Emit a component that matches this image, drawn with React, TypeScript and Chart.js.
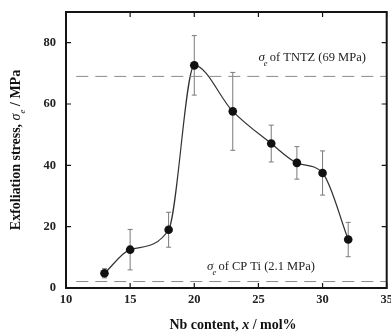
import React, { useEffect, useRef } from "react";
import { Chart, registerables } from "chart.js";

Chart.register(...registerables);

const nbContent = [13, 15, 18, 20, 23, 26, 28, 30, 32];
const stress = [4.8, 12.5, 19.0, 72.6, 57.6, 47.1, 40.8, 37.5, 15.8];
const stressErr = [1.5, 6.6, 5.7, 9.7, 12.7, 6.0, 5.3, 7.2, 5.6];
const xTicks = [10, 15, 20, 25, 30, 35];
const yTicks = [0, 20, 40, 60, 80];
const tntzLevel = 69;
const cpTiLevel = 2.1;
const refLineStart = 10.8;
const tntzLabel = ["σ", "e", " of TNTZ (69 MPa)"];
const cpTiLabel = ["σ", "e", " of CP Ti (2.1 MPa)"];
const tntzLabelPos = { x: 25.0, y: 74 };
const cpTiLabelPos = { x: 21.0, y: 5.8 };

const SERIF = '"Liberation Serif", "DejaVu Serif", serif';

const overlay = {
  id: "overlay",
  beforeDatasetsDraw(chart: any) {
    const ctx = chart.ctx;
    const xs = chart.scales.x;
    const ys = chart.scales.y;
    ctx.save();
    ctx.strokeStyle = "#7a7a7a";
    ctx.lineWidth = 1;
    nbContent.forEach((xv, i) => {
      const px = xs.getPixelForValue(xv);
      const top = ys.getPixelForValue(stress[i] + stressErr[i]);
      const bot = ys.getPixelForValue(stress[i] - stressErr[i]);
      ctx.beginPath();
      ctx.moveTo(px, top);
      ctx.lineTo(px, bot);
      ctx.moveTo(px - 2.5, top);
      ctx.lineTo(px + 2.5, top);
      ctx.moveTo(px - 2.5, bot);
      ctx.lineTo(px + 2.5, bot);
      ctx.stroke();
    });
    ctx.restore();
  },
  afterDraw(chart: any) {
    const ctx = chart.ctx;
    const xs = chart.scales.x;
    const ys = chart.scales.y;
    const a = chart.chartArea;
    ctx.save();
    // frame
    ctx.strokeStyle = "#151515";
    ctx.lineWidth = 2;
    ctx.strokeRect(a.left, a.top, a.right - a.left, a.bottom - a.top);
    // inward ticks
    ctx.lineWidth = 1.2;
    ctx.beginPath();
    xTicks.forEach((v) => {
      const px = xs.getPixelForValue(v);
      ctx.moveTo(px, a.bottom);
      ctx.lineTo(px, a.bottom - 5);
      ctx.moveTo(px, a.top);
      ctx.lineTo(px, a.top + 5);
    });
    yTicks.forEach((v) => {
      const py = ys.getPixelForValue(v);
      ctx.moveTo(a.left, py);
      ctx.lineTo(a.left + 5, py);
      ctx.moveTo(a.right, py);
      ctx.lineTo(a.right - 5, py);
    });
    ctx.stroke();

    // annotations
    const drawSigmaLabel = (parts: string[], xv: number, yv: number) => {
      const px = xs.getPixelForValue(xv);
      const py = ys.getPixelForValue(yv);
      ctx.fillStyle = "#222";
      ctx.textBaseline = "alphabetic";
      ctx.textAlign = "left";
      ctx.font = `italic 13px ${SERIF}`;
      ctx.fillText(parts[0], px, py);
      const w0 = ctx.measureText(parts[0]).width;
      ctx.font = `italic 8.5px ${SERIF}`;
      ctx.fillText(parts[1], px + w0 - 1, py + 5);
      const w1 = ctx.measureText(parts[1]).width;
      ctx.font = `12.5px ${SERIF}`;
      ctx.fillText(parts[2], px + w0 + w1 - 2, py);
    };
    drawSigmaLabel(tntzLabel, tntzLabelPos.x, tntzLabelPos.y);
    drawSigmaLabel(cpTiLabel, cpTiLabelPos.x, cpTiLabelPos.y);

    // x title
    ctx.fillStyle = "#111";
    const xParts = [
      { t: "Nb content, ", f: `bold 14px ${SERIF}` },
      { t: "x", f: `bold italic 14px ${SERIF}` },
      { t: " / mol%", f: `bold 14px ${SERIF}` },
    ];
    let total = 0;
    xParts.forEach((p) => {
      ctx.font = p.f;
      total += ctx.measureText(p.t).width;
    });
    let cx = 233 - total / 2;
    xParts.forEach((p) => {
      ctx.font = p.f;
      ctx.fillText(p.t, cx, 329);
      cx += ctx.measureText(p.t).width;
    });

    // y title
    ctx.translate(20, 150);
    ctx.rotate(-Math.PI / 2);
    const yParts = [
      { t: "Exfoliation stress, ", f: `bold 14px ${SERIF}`, dy: 0 },
      { t: "σ", f: `italic 14px ${SERIF}`, dy: 0 },
      { t: "e", f: `italic 9px ${SERIF}`, dy: 5 },
      { t: " / MPa", f: `bold 14px ${SERIF}`, dy: 0 },
    ];
    total = 0;
    yParts.forEach((p) => {
      ctx.font = p.f;
      total += ctx.measureText(p.t).width;
    });
    cx = -total / 2;
    yParts.forEach((p) => {
      ctx.font = p.f;
      ctx.fillText(p.t, cx, p.dy);
      cx += ctx.measureText(p.t).width;
    });
    ctx.restore();
  },
};

export default function App() {
  const ref = useRef<HTMLCanvasElement>(null);
  useEffect(() => {
    if (!ref.current) return;
    const chart = new Chart(ref.current, {
      type: "line",
      data: {
        datasets: [
          {
            data: [
              { x: refLineStart, y: tntzLevel },
              { x: 35, y: tntzLevel },
            ],
            borderColor: "#8a8a8a",
            borderWidth: 1,
            borderDash: [12, 7],
            pointRadius: 0,
          },
          {
            data: [
              { x: refLineStart, y: cpTiLevel },
              { x: 35, y: cpTiLevel },
            ],
            borderColor: "#8a8a8a",
            borderWidth: 1,
            borderDash: [12, 7],
            pointRadius: 0,
          },
          {
            data: nbContent.map((x, i) => ({ x, y: stress[i] })),
            borderColor: "#333",
            borderWidth: 1.2,
            cubicInterpolationMode: "monotone",
            pointRadius: 4.3,
            pointBackgroundColor: "#111",
            pointBorderColor: "#111",
            pointBorderWidth: 0,
          },
        ],
      },
      options: {
        animation: false,
        responsive: false,
        devicePixelRatio: 1,
        layout: { padding: { top: 12, right: 1, left: 0, bottom: 0 } },
        plugins: { legend: { display: false }, tooltip: { enabled: false } },
        scales: {
          x: {
            type: "linear",
            min: 10,
            max: 35,
            grid: { display: false, drawTicks: false },
            border: { display: false },
            afterBuildTicks: (s: any) => {
              s.ticks = xTicks.map((v) => ({ value: v }));
            },
            afterFit: (s: any) => {
              s.height = 44;
              s.paddingLeft = 0;
              s.paddingRight = 0;
            },
            ticks: {
              padding: 4,
              color: "#222",
              font: { family: SERIF, size: 12.5, weight: "bold" },
              maxRotation: 0,
              autoSkip: false,
            },
          },
          y: {
            type: "linear",
            min: 0,
            max: 90,
            grid: { display: false, drawTicks: false },
            border: { display: false },
            afterBuildTicks: (s: any) => {
              s.ticks = yTicks.map((v) => ({ value: v }));
            },
            afterFit: (s: any) => {
              s.width = 66;
              s.paddingTop = 0;
              s.paddingBottom = 0;
            },
            ticks: {
              padding: 10,
              color: "#222",
              font: { family: SERIF, size: 12.5, weight: "bold" },
            },
          },
        },
      },
      plugins: [overlay],
    } as any);
    return () => chart.destroy();
  }, []);
  return (
    <div style={{ position: "fixed", left: 0, top: 0, width: 391, height: 332, background: "#fff" }}>
      <canvas ref={ref} width={391} height={332} style={{ width: 391, height: 332 }} />
    </div>
  );
}
